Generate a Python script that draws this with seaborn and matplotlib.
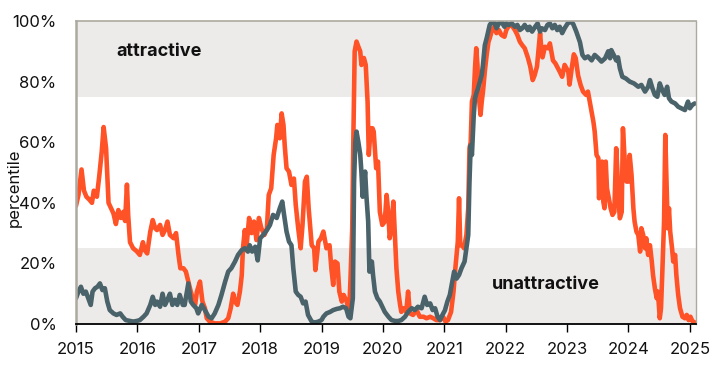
import numpy as np
import pandas as pd
import seaborn as sns
import matplotlib.pyplot as plt

# ---------------- data (decimal years, percentile) ----------------
orange_t = [2015.00, 2015.04, 2015.09, 2015.13, 2015.17, 2015.22, 2015.26, 2015.29, 2015.34, 2015.38,
            2015.42, 2015.45, 2015.49, 2015.53, 2015.56, 2015.61, 2015.65, 2015.69, 2015.73, 2015.77,
            2015.80, 2015.83, 2015.85, 2015.88, 2015.93, 2015.99, 2016.04, 2016.09, 2016.12, 2016.16,
            2016.21, 2016.25, 2016.29, 2016.32, 2016.37, 2016.41, 2016.45, 2016.49, 2016.53, 2016.59,
            2016.63, 2016.67, 2016.70, 2016.75, 2016.79, 2016.83, 2016.87, 2016.91, 2016.94, 2016.97,
            2017.02, 2017.06, 2017.10, 2017.13, 2017.18, 2017.26, 2017.35, 2017.43, 2017.48, 2017.52,
            2017.56, 2017.59, 2017.63, 2017.67, 2017.70, 2017.72, 2017.75, 2017.78, 2017.82, 2017.86,
            2017.90, 2017.94, 2017.98, 2018.02, 2018.07, 2018.11, 2018.14, 2018.18, 2018.22, 2018.26,
            2018.28, 2018.32, 2018.35, 2018.38, 2018.40, 2018.43, 2018.47, 2018.51, 2018.55, 2018.58,
            2018.62, 2018.66, 2018.69, 2018.73, 2018.76, 2018.79, 2018.84, 2018.88, 2018.90, 2018.95,
            2018.99, 2019.03, 2019.08, 2019.13, 2019.16, 2019.19, 2019.22, 2019.26, 2019.29, 2019.33,
            2019.36, 2019.41, 2019.45, 2019.47, 2019.50, 2019.52, 2019.54, 2019.57, 2019.60, 2019.63,
            2019.65, 2019.69, 2019.72, 2019.75, 2019.77, 2019.80, 2019.83, 2019.85, 2019.89, 2019.92,
            2019.95, 2019.99, 2020.03, 2020.06, 2020.09, 2020.11, 2020.14, 2020.17, 2020.20, 2020.22,
            2020.25, 2020.28, 2020.30, 2020.34, 2020.38, 2020.41, 2020.44, 2020.49, 2020.55, 2020.60,
            2020.66, 2020.71, 2020.77, 2020.82, 2020.87, 2020.93, 2020.98, 2021.02, 2021.06, 2021.11,
            2021.15, 2021.18, 2021.22, 2021.24, 2021.26, 2021.29, 2021.32, 2021.36, 2021.39, 2021.41,
            2021.43, 2021.45, 2021.48, 2021.50, 2021.52, 2021.54, 2021.56, 2021.59, 2021.61, 2021.63,
            2021.66, 2021.69, 2021.72, 2021.74, 2021.77, 2021.81, 2021.85, 2021.89, 2021.93, 2021.98,
            2022.01, 2022.06, 2022.10, 2022.15, 2022.19, 2022.23, 2022.27, 2022.31, 2022.36, 2022.40,
            2022.44, 2022.47, 2022.51, 2022.56, 2022.58, 2022.60, 2022.64, 2022.69, 2022.72, 2022.77,
            2022.81, 2022.88, 2022.92, 2022.96, 2023.02, 2023.04, 2023.08, 2023.11, 2023.14, 2023.18,
            2023.22, 2023.26, 2023.31, 2023.34, 2023.37, 2023.40, 2023.43, 2023.45, 2023.48, 2023.51,
            2023.52, 2023.55, 2023.57, 2023.59, 2023.61, 2023.63, 2023.65, 2023.69, 2023.71, 2023.74,
            2023.77, 2023.80, 2023.82, 2023.84, 2023.86, 2023.89, 2023.91, 2023.94, 2023.97, 2024.00,
            2024.02, 2024.05, 2024.08, 2024.10, 2024.13, 2024.16, 2024.19, 2024.21, 2024.24, 2024.27,
            2024.29, 2024.32, 2024.35, 2024.38, 2024.40, 2024.43, 2024.46, 2024.48, 2024.51, 2024.53,
            2024.55, 2024.58, 2024.60, 2024.62, 2024.64, 2024.66, 2024.68, 2024.71, 2024.73, 2024.76,
            2024.78, 2024.81, 2024.84, 2024.88, 2024.92, 2024.95, 2024.98, 2025.01, 2025.04, 2025.08]
orange_v = [39, 42.6, 51, 44, 42, 41, 40, 44, 42, 49,
            57, 65, 58, 40, 38.7, 36.5, 33, 37.6, 35, 37,
            34, 46, 36, 27, 25, 24, 22.8, 27, 24.4, 23.3,
            30.5, 34.3, 31.6, 31, 32.7, 29.4, 31, 33.8, 29.4, 28.3,
            30, 22.8, 18.4, 18.4, 17.3, 14, 10.7, 8, 6.3, 10.7,
            14, 7.4, 5.2, 1.9, 0.8, 0.2, 0.2, 0.8, 1.9, 5.2,
            10, 7.4, 6.3, 10.7, 16, 25, 31, 26, 35, 30,
            33.8, 27.7, 35, 31.6, 29.4, 31.6, 42.6, 44.8, 55.8, 61.3,
            65.7, 61.3, 69.5, 65.7, 59, 51.4, 50.3, 45.9, 48, 39.3,
            31.6, 25, 32.7, 47, 48.6, 38.2, 26, 25, 17.8, 27.2,
            28.3, 30.5, 25, 26, 18.4, 12.9, 20.6, 20, 10.7, 7.4,
            9.6, 7.4, 4, 14, 31.6, 63.5, 90, 93.2, 91.5, 90,
            85.5, 87.8, 85.5, 73.4, 55.8, 64.6, 64.6, 63.5, 51.4, 53.6,
            37, 32.7, 33.8, 42.6, 36, 28.3, 31.6, 40.4, 27.2, 18.4,
            10.7, 6.3, 4, 5.2, 4, 10.7, 3.5, 3, 4.6, 2.4,
            2.4, 1.9, 2.4, 1.9, 1.3, 1.3, 2.4, 0.8, 1.3, 4,
            10.7, 18.4, 27.2, 41.5, 26, 26, 25, 29.4, 38.2, 58,
            60, 73.4, 75.6, 84.4, 91, 85.5, 75.6, 69, 73.4, 76.7,
            83.3, 88.8, 93.2, 94.3, 96.5, 98.1, 96, 97, 95.4, 94.8,
            97, 98.7, 98.5, 97, 95.4, 93.2, 92, 91, 88, 85,
            80.5, 82, 85, 96, 91, 88, 91.5, 91, 92.6, 87,
            86, 83.3, 81.6, 85.5, 83.3, 79, 85, 89, 87.8, 82,
            78.9, 76.7, 75.6, 76.7, 73.4, 70, 66.6, 63.5, 55.8, 54.7,
            41.5, 44.8, 53.6, 40.4, 38.2, 53.6, 44.8, 40.4, 38.2, 36,
            37, 58, 50.3, 40.4, 34.9, 37, 64.6, 53.6, 47, 47,
            55.8, 49.2, 38.2, 33.8, 30.5, 29.4, 23.9, 31.6, 29.4, 25,
            28.3, 22.8, 26, 20.6, 16.2, 11.8, 8.5, 10.7, 1.9, 5.2,
            16.2, 33.8, 62.4, 47, 31.6, 38.2, 30.5, 25, 20.6, 22.8,
            16.2, 9.6, 5.2, 2.4, 1.9, 3, 1.3, 2.4, 1, 0.5]

gray_t = [2015.00, 2015.04, 2015.08, 2015.12, 2015.16, 2015.20, 2015.24, 2015.27, 2015.31, 2015.35,
          2015.39, 2015.43, 2015.47, 2015.51, 2015.55, 2015.61, 2015.66, 2015.72, 2015.76, 2015.81,
          2015.88, 2015.93, 2015.99, 2016.04, 2016.10, 2016.15, 2016.21, 2016.25, 2016.29, 2016.32,
          2016.37, 2016.41, 2016.45, 2016.49, 2016.53, 2016.57, 2016.61, 2016.65, 2016.69, 2016.74,
          2016.77, 2016.83, 2016.87, 2016.91, 2016.96, 2016.99, 2017.05, 2017.10, 2017.16, 2017.21,
          2017.26, 2017.32, 2017.37, 2017.43, 2017.48, 2017.53, 2017.59, 2017.64, 2017.70, 2017.75,
          2017.80, 2017.83, 2017.87, 2017.92, 2017.96, 2018.00, 2018.05, 2018.11, 2018.16, 2018.21,
          2018.27, 2018.32, 2018.36, 2018.39, 2018.43, 2018.47, 2018.51, 2018.54, 2018.58, 2018.62,
          2018.66, 2018.70, 2018.74, 2018.78, 2018.84, 2018.89, 2018.95, 2019.00, 2019.03, 2019.08,
          2019.14, 2019.19, 2019.25, 2019.30, 2019.35, 2019.40, 2019.44, 2019.47, 2019.51, 2019.53,
          2019.55, 2019.57, 2019.60, 2019.63, 2019.65, 2019.67, 2019.71, 2019.73, 2019.76, 2019.78,
          2019.82, 2019.84, 2019.87, 2019.91, 2019.95, 2019.99, 2020.03, 2020.09, 2020.14, 2020.20,
          2020.25, 2020.30, 2020.36, 2020.41, 2020.47, 2020.52, 2020.57, 2020.63, 2020.68, 2020.72,
          2020.77, 2020.81, 2020.85, 2020.89, 2020.93, 2020.97, 2021.01, 2021.05, 2021.09, 2021.13,
          2021.16, 2021.20, 2021.24, 2021.28, 2021.33, 2021.36, 2021.39, 2021.41, 2021.43, 2021.45,
          2021.48, 2021.50, 2021.53, 2021.55, 2021.58, 2021.61, 2021.63, 2021.66, 2021.69, 2021.72,
          2021.74, 2021.77, 2021.81, 2021.85, 2021.89, 2021.93, 2021.98, 2022.01, 2022.05, 2022.10,
          2022.15, 2022.19, 2022.23, 2022.27, 2022.31, 2022.36, 2022.39, 2022.43, 2022.48, 2022.52,
          2022.56, 2022.59, 2022.64, 2022.68, 2022.72, 2022.76, 2022.80, 2022.84, 2022.88, 2022.92,
          2022.96, 2023.01, 2023.06, 2023.10, 2023.15, 2023.21, 2023.25, 2023.29, 2023.34, 2023.40,
          2023.45, 2023.51, 2023.56, 2023.62, 2023.67, 2023.70, 2023.72, 2023.76, 2023.80, 2023.83,
          2023.86, 2023.90, 2023.96, 2024.02, 2024.09, 2024.16, 2024.21, 2024.27, 2024.32, 2024.35,
          2024.39, 2024.43, 2024.47, 2024.51, 2024.55, 2024.59, 2024.63, 2024.66, 2024.70, 2024.76,
          2024.81, 2024.86, 2024.92, 2024.97, 2025.00, 2025.04, 2025.08]
gray_v = [8.5, 10.7, 12.3, 10, 10.7, 8.5, 6.3, 10.7, 11.8, 12.3,
          13.4, 11.2, 11.8, 7.4, 4.6, 3.5, 3, 3.5, 2.4, 1.3,
          1, 0.8, 1, 1.3, 2.4, 3.5, 6.3, 9, 6.3, 7.4,
          5.7, 10, 6.3, 8, 10, 6.3, 8, 6.3, 9.6, 6.3,
          6.3, 13.4, 7.4, 6.3, 5.2, 3.5, 6.3, 4.6, 2.4, 1.9,
          3.5, 6.3, 9.6, 14, 17.3, 18.4, 20.6, 22.8, 24.4, 25,
          23.9, 26, 23.9, 25.5, 21, 28.3, 29.4, 31, 32.7, 36,
          35, 38.2, 40.4, 36, 30.5, 27.2, 26, 18.4, 10.7, 9.6,
          9, 6.8, 7.4, 3, 0.8, 0.5, 0.8, 1.3, 2.4, 3.5,
          4, 4.6, 5, 5.2, 5.7, 5.2, 2.4, 1.9, 8.5, 47,
          60, 63.5, 60, 56, 50, 42, 50.3, 42.6, 33.8, 17.3,
          20.6, 16, 10.7, 8.5, 7.4, 5.7, 4, 2.4, 1.3, 1,
          1, 1.3, 2.4, 4, 5.2, 4.6, 5.7, 5.2, 9, 6.3,
          6.8, 4.6, 5.2, 2.4, 1.3, 3, 4.5, 7.4, 9.6, 14,
          17.3, 15, 16.2, 18.4, 20.6, 25, 29.4, 47, 59, 55.8,
          69, 74.5, 76.7, 77.8, 80, 82.2, 85.5, 92, 94.3, 97,
          98.7, 99.5, 99.8, 97.6, 99.2, 99.8, 98.1, 99.2, 98.7, 99.2,
          98.1, 98.7, 97, 97.6, 98.7, 97, 98.1, 96.5, 98.1, 99.2,
          96.5, 97.6, 97, 98.7, 99.2, 97.6, 98.7, 97, 98.1, 96,
          97.6, 99.2, 99.8, 99, 96.5, 93, 88.8, 87.7, 88.3, 87,
          88.8, 87.7, 86.6, 87.7, 90, 87.7, 90.4, 88.8, 87, 88,
          84.4, 81.6, 81, 80, 79.4, 78.3, 78.9, 76.7, 78.3, 80.5,
          77.8, 75.6, 75, 79.4, 77.2, 75.6, 78.3, 74.5, 73.4, 72.8,
          71.7, 71.2, 70.6, 73.4, 71.2, 72.3, 72.8]

series_names = ["series A", "series B"]
series_colors = ["#FF5227", "#4A6269"]
year_ticks = list(range(2015, 2026))
pct_ticks = [0, 20, 40, 60, 80, 100]
pct_labels = ["0%", "20%", "40%", "60%", "80%", "100%"]
zone_labels = ["attractive", "unattractive"]

df = pd.concat([
    pd.DataFrame({"year": orange_t, "pct": orange_v, "series": series_names[0]}),
    pd.DataFrame({"year": gray_t, "pct": gray_v, "series": series_names[1]}),
], ignore_index=True)

# ---------------- plot ----------------
sns.set_theme(style="white")
plt.rcParams['font.family'] = ['Inter', 'DejaVu Sans']

fig = plt.figure(figsize=(7.21, 3.85), dpi=100)
ax = fig.add_axes([0.1054, 0.1584, 0.8599, 0.7871])

band = "#EDEBEA"
ax.axhspan(0, 25, color=band, lw=0, zorder=0)
ax.axhspan(75, 100, color=band, lw=0, zorder=0)

sns.lineplot(data=df, x="year", y="pct", hue="series", hue_order=series_names,
             palette=dict(zip(series_names, series_colors)), linewidth=3.3,
             estimator=None, sort=False, legend=False, ax=ax)

ax.set_xlim(2015, 2025.1)
ax.set_ylim(0, 100)
ax.set_xticks(year_ticks)
ax.set_xticklabels([str(y) for y in year_ticks])
ax.set_yticks(pct_ticks)
ax.set_yticklabels(pct_labels)
ax.set_xlabel("")
ax.set_ylabel("percentile", fontsize=12, color="#111111")
ax.yaxis.set_label_coords(-0.088, 0.45)

ax.tick_params(axis="x", length=6, width=1, color="black", direction="out",
               pad=7, labelsize=12, labelcolor="#111111", bottom=True)
ax.tick_params(axis="y", length=0, pad=14, labelsize=12, labelcolor="#111111")

for side in ["left", "top", "right"]:
    ax.spines[side].set_color("#ADA9A0")
ax.spines["left"].set_linewidth(1.8)
ax.spines["top"].set_linewidth(1.2)
ax.spines["right"].set_linewidth(1.0)
ax.spines["bottom"].set_color("black")
ax.spines["bottom"].set_linewidth(1.3)

ax.text(2015.65, 89.8, zone_labels[0], fontsize=13, fontweight="bold",
        color="#111111", ha="left", va="center")
ax.text(2021.78, 13.2, zone_labels[1], fontsize=13, fontweight="bold",
        color="#111111", ha="left", va="center")

fig.savefig("out.png", dpi=100)
